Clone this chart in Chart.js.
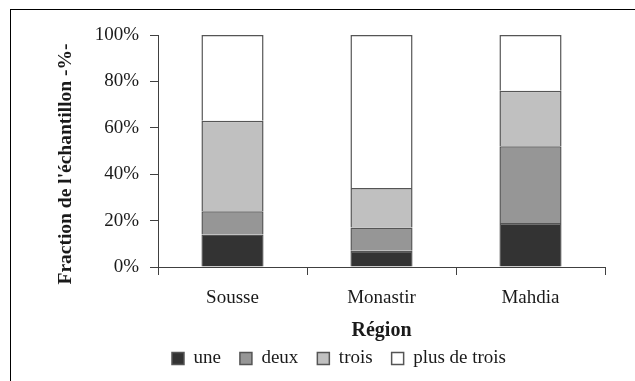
<!DOCTYPE html>
<html>
<head>
<meta charset="utf-8">
<script src="https://cdn.jsdelivr.net/npm/chart.js@4/dist/chart.umd.min.js"></script>
<style>
  html, body { margin: 0; padding: 0; background: #fff; }
  #wrap { position: relative; width: 635px; height: 381px; overflow: hidden; }
  #frame { position: absolute; left: 10px; top: 9px; width: 700px; height: 500px;
           border-left: 1px solid #000; border-top: 1px solid #000; }
  #c { position: absolute; left: 0; top: 0; }
</style>
</head>
<body>
<div id="wrap">
  <div id="frame"></div>
  <canvas id="c" width="635" height="381"></canvas>
</div>
<script>
// Régions étudiées
const regions = ['Sousse', 'Monastir', 'Mahdia'];
// Répartition de l'échantillon (%) par classe
const une = [14, 7, 19];
const deux = [10, 10, 33];
const trois = [39, 17, 24];
const plusDeTrois = [37, 66, 24];
// Graduations de l'axe vertical (%)
const yTicks = [0, 20, 40, 60, 80, 100];

const seriesNames = ['une', 'deux', 'trois', 'plus de trois'];
const seriesValues = [une, deux, trois, plusDeTrois];
const fills = ['#333333', '#969696', '#c0c0c0', '#ffffff'];

const SERIF = '"Liberation Serif", "Times New Roman", serif';
const INK = '#1a1a1a';

const datasets = seriesNames.map((name, i) => ({
  label: name,
  data: seriesValues[i],
  backgroundColor: fills[i],
  borderColor: '#555555',
  borderWidth: 1.5,
  barPercentage: 0.417,
  categoryPercentage: 1.0
}));

// Places the legend row and writes the rotated y-axis title
const layoutTweaks = {
  id: 'layoutTweaks',
  afterLayout(chart) {
    const lg = chart.legend;
    const dx = 16.5, dy = -3;
    lg.left += dx; lg.right += dx;
    lg.top += dy; lg.bottom += dy;
  },
  afterDraw(chart) {
    const ctx = chart.ctx;
    ctx.save();
    ctx.translate(66, 164);
    ctx.rotate(-Math.PI / 2);
    ctx.font = 'bold 19.5px ' + SERIF;
    ctx.fillStyle = INK;
    ctx.textAlign = 'center';
    ctx.textBaseline = 'middle';
    ctx.fillText("Fraction de l'échantillon -%-", 0, 0);
    ctx.restore();
  }
};

new Chart(document.getElementById('c'), {
  type: 'bar',
  data: { labels: regions, datasets },
  plugins: [layoutTweaks],
  options: {
    responsive: false,
    animation: false,
    layout: { padding: { top: 35, right: 30, bottom: 0, left: 40 } },
    plugins: {
      tooltip: { enabled: false },
      legend: {
        position: 'bottom',
        labels: {
          boxWidth: 12,
          boxHeight: 12,
          padding: 19,
          color: INK,
          font: { family: SERIF, size: 19 }
        }
      }
    },
    scales: {
      x: {
        stacked: true,
        offset: true,
        afterFit(s) { s.height = 66; },
        grid: { offset: true, drawOnChartArea: false, tickLength: 8, color: '#404040', lineWidth: 1 },
        border: { display: true, color: '#404040', width: 1 },
        ticks: { color: INK, padding: 12, font: { family: SERIF, size: 19 } },
        title: {
          display: true,
          text: 'Région',
          color: INK,
          padding: { top: 0, bottom: -10 },
          font: { family: SERIF, size: 20, weight: 'bold' }
        }
      },
      y: {
        stacked: true,
        min: 0,
        max: 100,
        afterFit(s) { s.width = 118; },
        afterBuildTicks(s) { s.ticks = yTicks.map(v => ({ value: v })); },
        grid: { drawOnChartArea: false, tickLength: 8, color: '#404040', lineWidth: 1 },
        border: { display: true, color: '#404040', width: 1 },
        ticks: {
          color: INK,
          padding: 11,
          font: { family: SERIF, size: 19 },
          callback: v => v + '%'
        }
      }
    }
  }
});
</script>
</body>
</html>
